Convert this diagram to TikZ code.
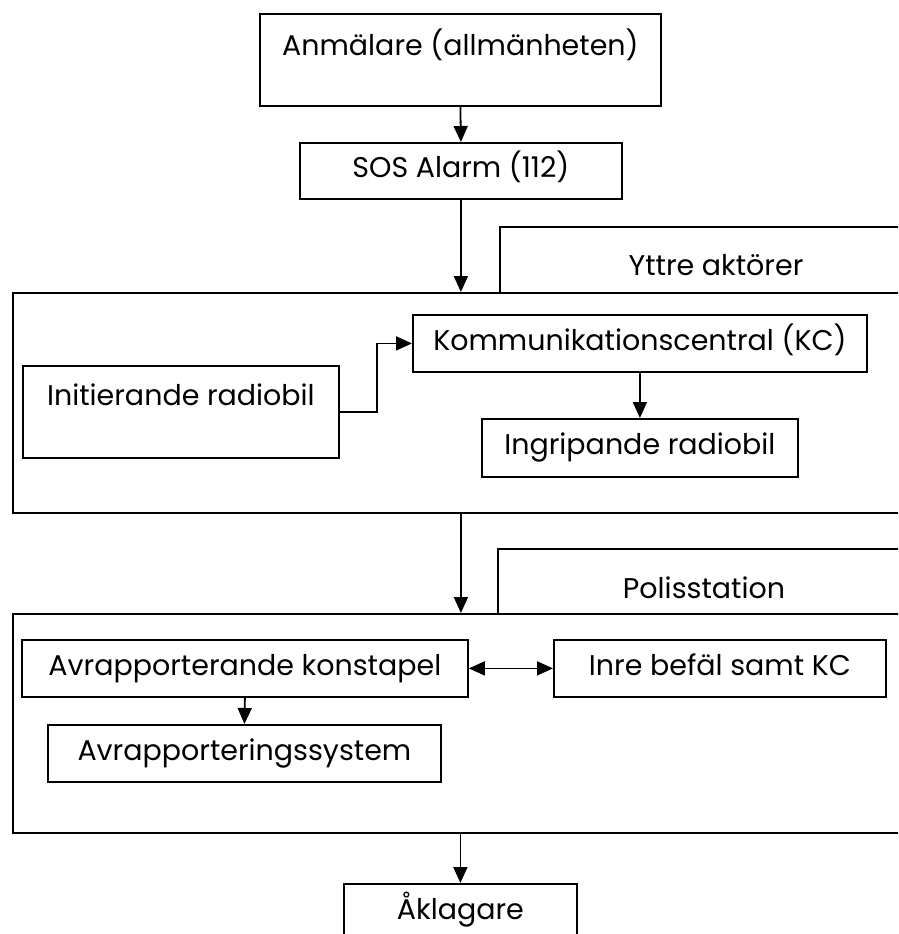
\documentclass[tikz,border=0pt]{standalone}
\usepackage{fontspec}
\setmainfont{Poppins}
\usetikzlibrary{arrows.meta}
\tikzset{
	box/.style={draw, line width=1.8pt, inner sep=0pt, anchor=north west, text height=20pt, text depth=6pt},
	group/.style={draw, line width=1.8pt, inner sep=0pt, anchor=north west},
	tabline/.style={line width=1.8pt}
}
\begin{document}
\begin{tikzpicture}[x=1pt, y=-1pt, >={Triangle[length=16pt,width=14pt]}, line width=1.8pt, font=\fontsize{28.5}{33}\selectfont]
			\clip (0,0) rectangle (898,934);
			\node[box, minimum width=401, minimum height=92, text depth=28pt] (anm) at (259,13) {Anmälare (allmänheten)};
			\node[box, minimum width=322, minimum height=56] (sos) at (299,142) {SOS Alarm (112)};
			\node[group, minimum width=920, minimum height=220] (grp1) at (12,292) {};
			\draw[tabline] (500,292) -- (500,227) -- (910,227);
			\node (yttre) at (716,265) {Yttre aktörer};
			\node[box, minimum width=454, minimum height=57] (kc) at (412,314) {Kommunikationscentral (KC)};
			\node[box, minimum width=316, minimum height=92, text depth=32pt] (init) at (22,365) {Initierande radiobil};
			\node[box, minimum width=316, minimum height=58] (ingr) at (481,418) {Ingripande radiobil};
			\node[group, minimum width=920, minimum height=219] (grp2) at (12,613) {};
			\draw[tabline] (498,613) -- (498,549) -- (910,549);
			\node (polis) at (704,588) {Polisstation};
			\node[box, minimum width=446, minimum height=57] (avr) at (21,639) {Avrapporterande konstapel};
			\node[box, minimum width=332, minimum height=57] (inre) at (553,639) {Inre befäl samt KC};
			\node[box, minimum width=393, minimum height=57] (sys) at (47,724) {Avrapporteringssystem};
			\node[box, minimum width=233, minimum height=57] (akl) at (343,883) {Åklagare};
			\draw[->] (anm.south) -- (sos.north);
			\draw[->] (sos.south) -- (sos.south |- grp1.north);
			\draw[->] (init.east) -- ++(37,0) |- (kc.west);
			\draw[->] (kc.south) -- (ingr.north);
			\draw[->] (sos.south |- grp1.south) -- (sos.south |- grp2.north);
			\draw[<->] (avr.east) -- (inre.west);
			\draw[->] (avr.south) -- (sys.north);
			\draw[->] (akl.north |- grp2.south) -- (akl.north);
		\end{tikzpicture}
\end{document}
